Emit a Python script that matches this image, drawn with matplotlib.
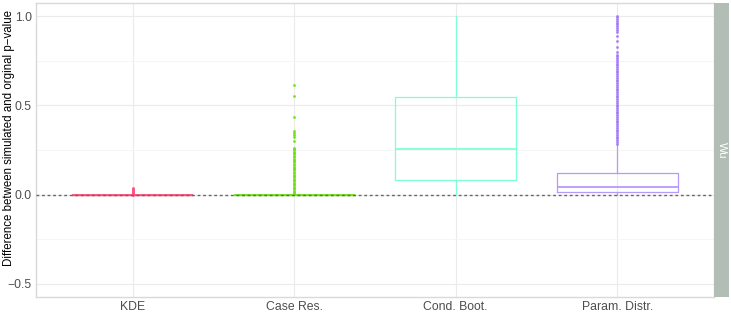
import matplotlib
matplotlib.use("Agg")
import matplotlib.pyplot as plt

plt.rcParams['font.family'] = ['Liberation Sans', 'DejaVu Sans']

categories = ["KDE", "Case Res.", "Cond. Boot.", "Param. Distr."]
colors = ["#FF4F7A", "#6FE01A", "#7FFFD4", "#B69AFA"]
flier_colors = ["#FF4F7A", "#6FE01A", "#7FFFD4", "#A57AF7"]

q1 = [0.0, 0.0, 0.083, 0.015]
med = [0.0, 0.0, 0.253, 0.043]
q3 = [0.0, 0.0, 0.549, 0.122]
whislo = [0.0, 0.0, 0.0, 0.0]
whishi = [0.0, 0.0, 1.0, 0.277]

kde_out = [0.005, 0.010, 0.015, 0.020, 0.025, 0.030, 0.035, -0.004]
case_out = [0.614, 0.552, 0.437, 0.356, 0.345, 0.335, 0.324, 0.300,
            0.262, 0.255, 0.248, 0.240, 0.232, 0.225, 0.218, 0.210, 0.202,
            0.195, 0.187, 0.180, 0.172, 0.165, 0.157, 0.150, 0.142, 0.135,
            0.127, 0.120, 0.112, 0.105, 0.097, 0.090, 0.082, 0.075, 0.067,
            0.060, 0.052, 0.045, 0.037, 0.030, 0.022, 0.015, 0.008, 0.004]
cond_out = []
param_out = [0.285, 0.295, 0.305, 0.315, 0.325, 0.335, 0.345, 0.355, 0.365,
             0.375, 0.385, 0.395, 0.405, 0.415, 0.425, 0.435, 0.445, 0.455,
             0.465, 0.475, 0.485, 0.495, 0.505, 0.515, 0.525, 0.535, 0.545,
             0.555, 0.565, 0.575, 0.585, 0.595, 0.605, 0.615, 0.625, 0.635,
             0.645, 0.655, 0.665, 0.675, 0.685, 0.695, 0.705, 0.715, 0.725,
             0.735, 0.745, 0.755, 0.765, 0.775, 0.785, 0.80, 0.83, 0.86,
             0.89, 0.915, 0.925, 0.935, 0.945, 0.955, 0.965, 0.975, 0.985,
             0.995, 1.0]
fliers = [kde_out, case_out, cond_out, param_out]

ytick_vals = [-0.5, 0.0, 0.5, 1.0]
ytick_labels = ["\u22120.5", "0.0", "0.5", "1.0"]
ylabel = "Difference between simulated and orginal p\u2212value"
strip_label = "Wu"

W, H = 731, 313
fig = plt.figure(figsize=(W / 100, H / 100), dpi=100)
fig.patch.set_facecolor("white")
ax = fig.add_axes([36 / W, 1 - 297 / H, (714 - 36) / W, (297 - 3) / H])

ax.set_ylim(-0.575, 1.075)
ax.set_xlim(0.4, 4.6)
ax.set_yticks(ytick_vals)
ax.set_yticklabels(ytick_labels)
ax.set_yticks([-0.25, 0.25, 0.75], minor=True)
ax.grid(True, which="major", color="#EBEBEB", linewidth=0.8)
ax.grid(True, which="minor", axis="y", color="#F3F3F3", linewidth=0.5)
ax.set_axisbelow(True)
ax.tick_params(axis="both", which="both", length=0, labelsize=8.8,
               labelcolor="#4D4D4D", pad=3)
for sp in ax.spines.values():
    sp.set_color("#D9D9D9")
    sp.set_linewidth(1.0)

for i in range(4):
    stats = [dict(med=med[i], q1=q1[i], q3=q3[i], whislo=whislo[i],
                  whishi=whishi[i], fliers=fliers[i], label=categories[i])]
    c = colors[i]
    ax.bxp(stats, positions=[i + 1], widths=0.75, showcaps=False,
           boxprops=dict(color=c, linewidth=0.9),
           whiskerprops=dict(color=c, linewidth=0.9),
           medianprops=dict(color=c, linewidth=1.3),
           flierprops=dict(marker="o", markersize=1.5, markerfacecolor=flier_colors[i],
                           markeredgecolor=flier_colors[i], markeredgewidth=0.4,
                           linestyle="none"),
           manage_ticks=False)

ax.axhline(0, color="#666666", linestyle=(0, (2, 2)), linewidth=1.0, zorder=5)

ax.set_xticks(range(1, 5))
ax.set_xticklabels(categories)

fig.text(9 / W, 1 - 138 / H, ylabel, rotation=90, ha="center", va="center",
         fontsize=8.3, color="black")

sax = fig.add_axes([714 / W, 1 - 297 / H, 15 / W, (297 - 3) / H])
sax.set_facecolor("#B2BEB5")
sax.set_xticks([]); sax.set_yticks([])
for sp in sax.spines.values():
    sp.set_visible(False)
sax.text(0.5, 0.5, strip_label, rotation=-90, ha="center", va="center",
         color="white", fontsize=8, transform=sax.transAxes)

fig.savefig("out.png", dpi=100, facecolor="white")
